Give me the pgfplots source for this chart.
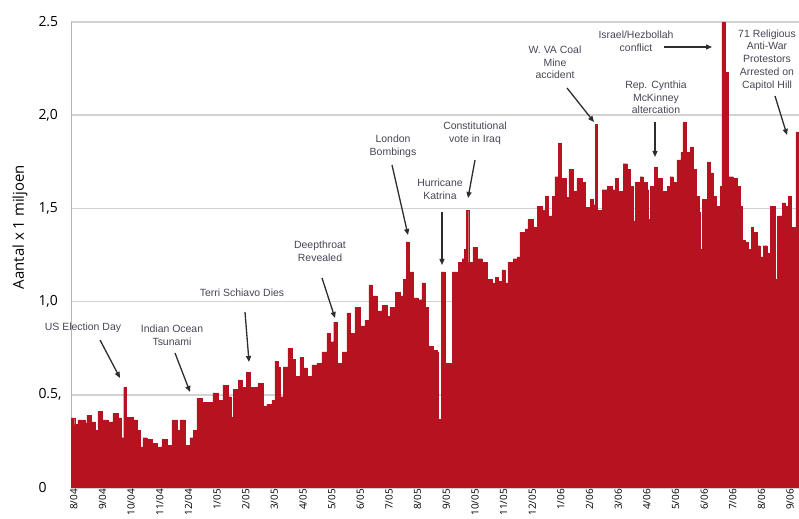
\documentclass[border=0pt]{standalone}
\usepackage{fontspec}
\usepackage{pgfplots}
\pgfplotsset{compat=1.18}
\usetikzlibrary{arrows.meta}
\setmainfont{Open Sans}
\newfontfamily\annfamily{Liberation Sans}
\definecolor{areared}{RGB}{182,18,32}
\definecolor{anncol}{RGB}{70,70,85}
\definecolor{arrcol}{RGB}{45,45,45}
\definecolor{gridgray}{RGB}{210,210,210}
\begin{document}
\begin{tikzpicture}[x=1bp,y=1bp,
  ann/.style={font=\annfamily\fontsize{10.5}{12.8}\selectfont, text=anncol, align=center, inner sep=0pt},
  arr/.style={-{Triangle[length=6bp,width=5bp]}, line width=1.3bp, draw=arrcol}]
\useasboundingbox (0,0) rectangle (799,519);
\begin{axis}[
  at={(71bp,31bp)}, anchor=south west,
  scale only axis, width=728bp, height=466bp,
  xmin=-0.10, xmax=25.31, ymin=0, ymax=2.5,
  axis y line*=left, axis x line*=bottom,
  axis line style={-},
  x axis line style={draw=none},
  y axis line style={draw=gray!60, line width=1bp},
  major tick length=0pt,
  ytick={0,0.5,1,1.5,2,2.5},
  yticklabels={0,{0.5,},{1,0},{1,5},{2,0},2.5},
  yticklabel style={anchor=west, xshift=-36bp, font=\fontsize{14}{16}\selectfont},
  xtick={0,1,...,25},
  xticklabels={8/04,9/04,10/04,11/04,12/04,1/05,2/05,3/05,4/05,5/05,6/05,7/05,8/05,9/05,10/05,11/05,12/05,1/06,2/06,3/06,4/06,5/06,6/06,7/06,8/06,9/06},
  xticklabel style={rotate=90, anchor=east, inner sep=1bp, font=\fontsize{10}{12}\selectfont},
  ymajorgrids, grid style={draw=gridgray, line width=1.5bp},
  clip=true,
]
\addplot[const plot, fill=areared, draw=areared, line width=0.3bp] table {
x y
-0.10 0.376
0.03 0.34
0.14 0.365
0.38 0.35
0.45 0.39
0.60 0.355
0.73 0.31
0.84 0.41
0.98 0.365
1.19 0.355
1.36 0.40
1.54 0.376
1.66 0.27
1.74 0.54
1.84 0.38
2.06 0.365
2.20 0.31
2.30 0.22
2.41 0.27
2.55 0.26
2.72 0.24
2.90 0.22
3.07 0.26
3.25 0.23
3.42 0.365
3.60 0.31
3.70 0.365
3.88 0.23
4.05 0.27
4.16 0.31
4.29 0.48
4.47 0.46
4.68 0.46
4.85 0.51
5.03 0.47
5.20 0.55
5.38 0.49
5.50 0.38
5.56 0.53
5.73 0.58
5.87 0.54
6.02 0.62
6.16 0.54
6.42 0.56
6.60 0.44
6.74 0.45
6.91 0.47
7.02 0.68
7.12 0.65
7.19 0.49
7.30 0.65
7.47 0.75
7.61 0.69
7.72 0.60
7.89 0.70
8.00 0.645
8.14 0.60
8.31 0.66
8.48 0.67
8.66 0.73
8.83 0.83
8.94 0.785
9.07 0.89
9.20 0.67
9.36 0.73
9.53 0.94
9.64 0.83
9.81 0.97
9.99 0.87
10.16 0.90
10.30 1.09
10.40 1.03
10.58 0.95
10.75 0.98
10.93 0.92
11.03 0.97
11.21 1.05
11.38 1.03
11.49 1.12
11.60 1.32
11.70 1.16
11.84 1.02
12.01 1.01
12.15 1.10
12.26 0.97
12.36 0.76
12.53 0.74
12.67 0.73
12.72 0.37
12.82 1.16
12.96 0.67
13.20 1.16
13.41 1.21
13.55 1.23
13.62 1.28
13.69 1.49
13.78 1.21
13.93 1.29
14.07 1.23
14.25 1.21
14.42 1.12
14.59 1.10
14.70 1.13
14.80 1.11
14.94 1.17
15.05 1.10
15.15 1.21
15.33 1.23
15.47 1.24
15.57 1.37
15.75 1.39
15.85 1.44
16.03 1.40
16.17 1.51
16.34 1.49
16.45 1.565
16.55 1.46
16.69 1.565
16.79 1.67
16.90 1.85
17.00 1.66
17.18 1.56
17.28 1.71
17.42 1.59
17.56 1.66
17.74 1.64
17.84 1.505
18.02 1.55
18.12 1.52
18.20 1.95
18.28 1.49
18.44 1.60
18.61 1.62
18.78 1.60
18.89 1.66
18.99 1.59
19.17 1.74
19.31 1.71
19.41 1.62
19.52 1.43
19.60 1.64
19.76 1.67
19.87 1.64
20.01 1.60
20.06 1.44
20.12 1.62
20.25 1.72
20.36 1.66
20.53 1.59
20.71 1.62
20.81 1.67
20.91 1.64
21.05 1.76
21.19 1.80
21.26 1.96
21.36 1.80
21.51 1.83
21.61 1.71
21.72 1.565
21.82 1.48
21.87 1.28
21.93 1.55
22.10 1.75
22.21 1.69
22.31 1.565
22.42 1.51
22.56 1.62
22.62 2.50
22.72 2.23
22.84 1.67
23.01 1.66
23.15 1.62
23.25 1.51
23.32 1.33
23.43 1.32
23.53 1.28
23.64 1.40
23.71 1.37
23.85 1.30
23.95 1.24
24.06 1.30
24.20 1.26
24.30 1.51
24.49 1.12
24.56 1.46
24.72 1.53
24.83 1.51
24.93 1.565
25.05 1.40
25.20 1.91
25.31 1.89
} \closedcycle;
\end{axis}
% y label
\node[rotate=90, font=\fontsize{15}{17}\selectfont] at (20,292) {Aantal x 1 miljoen};
% annotations
\node[ann] at (83,191) {US Election Day};
\draw[arr] (100,179) -- (120,141);
\node[ann] at (172,183.5) {Indian Ocean\\Tsunami};
\draw[arr] (175,166) -- (190,127);
\node[ann] at (242,226) {Terri Schiavo Dies};
\draw[arr] (245,207) -- (249,157);
\node[ann] at (320,267.5) {Deepthroat\\Revealed};
\draw[arr] (322,241) -- (335,201);
\node[ann] at (393,372.5) {London\\Bombings};
\draw[arr] (392,354) -- (408,284);
\node[ann] at (440,330) {Hurricane\\Katrina};
\draw[arr] (442,307) -- (442,254);
\node[ann] at (475,385.5) {Constitutional\\vote in Iraq};
\draw[arr] (475,359) -- (468,321);
\node[ann] at (555,456.5) {W. VA Coal\\Mine\\accident};
\draw[arr] (567,431) -- (594,397);
\node[ann] at (636,477.5) {Israel/Hezbollah\\conflict};
\draw[arr] (664,472) -- (712,472);
\node[ann] at (656,421.5) {Rep. Cynthia\\McKinney\\altercation};
\draw[arr] (655,397) -- (655,362);
\node[ann] at (767,459) {71 Religious\\Anti-War\\Protestors\\Arrested on\\Capitol Hill};
\draw[arr] (775,423) -- (787,384);
\end{tikzpicture}
\end{document}
